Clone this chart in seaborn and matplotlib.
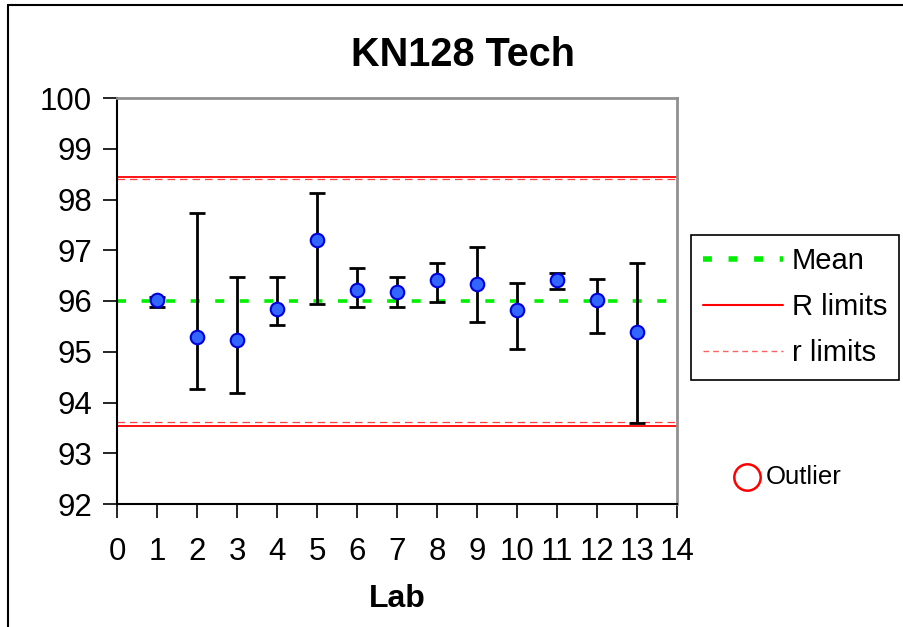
import matplotlib
matplotlib.use("Agg")
import matplotlib.pyplot as plt
import seaborn as sns
import pandas as pd
from matplotlib.lines import Line2D

labs = [1, 2, 3, 4, 5, 6, 7, 8, 9, 10, 11, 12, 13]
means = [96.02, 95.30, 95.23, 95.85, 97.20, 96.21, 96.17, 96.41, 96.33, 95.82, 96.41, 96.01, 95.38]
upper = [96.08, 97.73, 96.47, 96.47, 98.13, 96.66, 96.47, 96.74, 97.06, 96.35, 96.55, 96.43, 96.74]
lower = [95.88, 94.26, 94.18, 95.52, 95.95, 95.88, 95.88, 95.99, 95.59, 95.05, 96.23, 95.36, 93.59]
grand_mean = 96.0
R_limits = [93.54, 98.44]
r_limits = [93.62, 98.40]
xticks = list(range(0, 15))
yticks = list(range(92, 101))

sns.set_theme(style="white")
plt.rcParams['font.family'] = ['Liberation Sans', 'DejaVu Sans']
plt.rcParams['text.color'] = 'black'
plt.rcParams['axes.labelcolor'] = 'black'
plt.rcParams['xtick.color'] = 'black'
plt.rcParams['ytick.color'] = 'black'

df = pd.DataFrame({"Lab": labs, "Value": means, "Upper": upper, "Lower": lower})

fig = plt.figure(figsize=(9.04, 6.27), dpi=100)
ax = fig.add_axes([117/904, 1-504/627, 560/904, 406/627])

# limit lines
for v in R_limits:
    ax.axhline(v, color="#ff0000", lw=1.3, zorder=1)
for v in r_limits:
    ax.axhline(v, color="#ff4040", lw=0.9, ls=(0, (6, 4)), zorder=1)
ax.axhline(grand_mean, color="#00ee00", lw=2.6, ls=(0, (2.5, 4.3)), zorder=2)

# error bars
yerr = [[m - l for m, l in zip(df.Value, df.Lower)], [u - m for m, u in zip(df.Value, df.Upper)]]
ax.errorbar(df.Lab, df.Value, yerr=yerr, fmt="none", ecolor="black", elinewidth=2,
            capsize=5.5, capthick=2, zorder=3)
sns.scatterplot(data=df, x="Lab", y="Value", ax=ax, s=95, color="#3366ff",
                edgecolor="#0000dd", linewidth=1.5, zorder=4, legend=False)

ax.set_xlim(0, 14)
ax.set_ylim(92, 100)
ax.set_xticks(xticks)
ax.set_yticks(yticks)
ax.set_xticklabels([str(t) for t in xticks])
ax.set_yticklabels([str(t) for t in yticks])
ax.tick_params(axis="both", labelsize=22.5, length=10, width=1.2, color="black",
               labelcolor="black", direction="out", left=True, bottom=True)
ax.tick_params(axis="y", pad=8)
ax.tick_params(axis="x", pad=14)
for s in ["left", "bottom"]:
    ax.spines[s].set_color("black")
    ax.spines[s].set_linewidth(1.5)
for s in ["top", "right"]:
    ax.spines[s].set_color("#909090")
    ax.spines[s].set_linewidth(2)
ax.set_xlabel("Lab", fontsize=23, fontweight="bold", labelpad=12, color="black")
ax.set_ylabel("")
fig.text(463/904, 1-55/627, "KN128 Tech", fontsize=28.5, fontweight="bold",
         ha="center", va="center", color="black")

handles = [
    Line2D([], [], color="#00ee00", lw=4, ls=(0, (1.6, 3.0))),
    Line2D([], [], color="#ff0000", lw=1.5),
    Line2D([], [], color="#ff6060", lw=1, ls=(0, (4, 3))),
]
leg = fig.legend(handles, ["Mean", "R limits", "r limits"], loc="upper left",
                 bbox_to_anchor=(691/904, 1-235/627), fontsize=21, frameon=True,
                 fancybox=False, edgecolor="black", framealpha=1, handlelength=2.75,
                 borderpad=0.42, labelspacing=0.62, handletextpad=0.28, borderaxespad=0)
leg.get_frame().set_linewidth(1.2)
for t in leg.get_texts():
    t.set_color("black")

# outlier marker
fig.add_artist(Line2D([747/904], [1-477/627], marker="o", markersize=19, mfc="none",
                      mec="#ff0000", mew=1.8, transform=fig.transFigure))
fig.text(766/904, 1-477/627, "Outlier", fontsize=18.5, va="center", ha="left", color="black")

# figure border
fig.add_artist(Line2D([8/904, 8/904], [0, 1-5/627], color="black", lw=1.5,
                      transform=fig.transFigure))
fig.add_artist(Line2D([8/904, 1], [1-5/627, 1-5/627], color="black", lw=1.5,
                      transform=fig.transFigure))

fig.savefig("out.png", dpi=100)
